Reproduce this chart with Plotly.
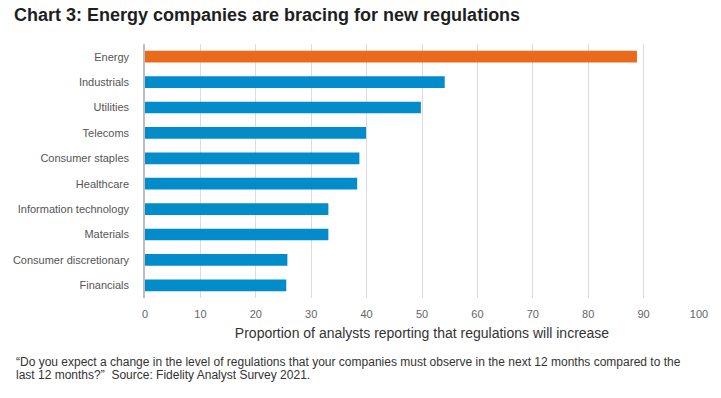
import plotly.graph_objects as go

categories = ["Energy", "Industrials", "Utilities", "Telecoms", "Consumer staples",
              "Healthcare", "Information technology", "Materials",
              "Consumer discretionary", "Financials"]
values = [88.8, 54.1, 49.8, 39.9, 38.7, 38.3, 33.1, 33.1, 25.7, 25.5]
highlight = "Energy"
x_ticks = [0, 10, 20, 30, 40, 50, 60, 70, 80, 90, 100]

title_text = "Chart 3: Energy companies are bracing for new regulations"
x_title = "Proportion of analysts reporting that regulations will increase"
footer_1 = "\u201cDo you expect a change in the level of regulations that your companies must observe in the next 12 months compared to the"
footer_2 = "last 12 months?\u201d\u00a0 Source: Fidelity Analyst Survey 2021."

ORANGE = "#E96A1B"
BLUE = "#028CC9"
FONT = "Liberation Sans, Arial, sans-serif"

colors = [ORANGE if c == highlight else BLUE for c in categories]

fig = go.Figure(go.Bar(
    x=values, y=categories, orientation="h",
    marker=dict(color=colors, line=dict(width=0)),
    width=0.46, hoverinfo="x+y",
))

W, H = 721, 398
L, T = 145.3, 44
R = W - 699.3
B = H - 298.3
pw, ph = W - L - R, H - T - B

fig.update_layout(
    width=W, height=H,
    margin=dict(l=L, r=R, t=T, b=B, pad=0, autoexpand=False),
    paper_bgcolor="white", plot_bgcolor="white",
    font=dict(family=FONT, color="#444"),
    showlegend=False,
    title=dict(text="<b>" + title_text + "</b>", xref="container", yref="container",
               x=14 / W, xanchor="left", y=1 - 15 / H, yanchor="middle",
               font=dict(size=18, color="#1e1e1e", family=FONT)),
    xaxis=dict(range=[0, 100], tickvals=x_ticks, ticktext=[str(v) for v in x_ticks],
               showgrid=True, gridcolor="#dcdcdc", gridwidth=1,
               zeroline=False, showline=False, ticks="",
               tickfont=dict(size=11, color="#666"), ticklabelstandoff=8,
               title=dict(text=x_title, font=dict(size=14, color="#333"), standoff=9),
               fixedrange=True),
    yaxis=dict(autorange=False, range=[9.5, -0.5], categoryorder="array",
               categoryarray=categories, showgrid=False, zeroline=False,
               showline=True, linecolor="#bdbdbd", linewidth=1.5, ticks="",
               tickfont=dict(size=11, color="#555"), ticklabelstandoff=12,
               fixedrange=True),
)

for txt, yc in [(footer_1, 362.0), (footer_2, 375.3)]:
    fig.add_annotation(text=txt, xref="paper", yref="paper",
                       x=(14 - L) / pw, xanchor="left",
                       y=(H - B - yc) / ph, yanchor="middle",
                       showarrow=False, align="left",
                       font=dict(size=12, color="#333", family=FONT))

fig.write_html("out.html", config={"displayModeBar": False},
               post_script="document.body.style.margin='0';document.body.style.overflow='hidden';")
